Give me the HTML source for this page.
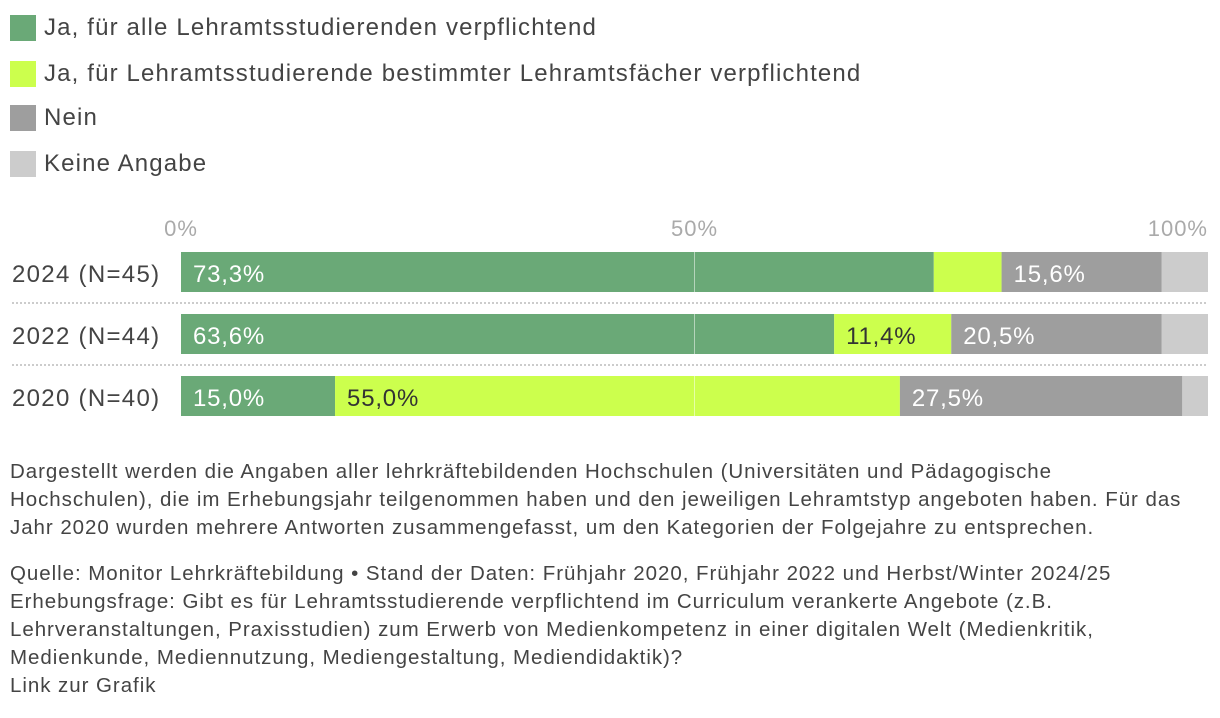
<!DOCTYPE html>
<html><head><meta charset="utf-8"><style>
body{margin:0;width:1220px;height:718px;background:#fff;font-family:"Liberation Sans",sans-serif;color:#333;overflow:hidden;position:relative}
.lg{position:absolute;left:10px;height:26px;display:flex;align-items:center;font-size:24px;color:#444;letter-spacing:1.15px;white-space:nowrap}
.sw{width:26px;height:26px;margin-right:8px}
.note{position:absolute;left:10px;font-size:20.5px;line-height:28px;color:#444;width:1210px;letter-spacing:0.95px;white-space:nowrap}
</style></head><body>
<div class="lg" style="top:15px"><div class="sw" style="background:#6aa977"></div>Ja, für alle Lehramtsstudierenden verpflichtend</div>
<div class="lg" style="top:61px"><div class="sw" style="background:#ccff4d"></div>Ja, für Lehramtsstudierende bestimmter Lehramtsfächer verpflichtend</div>
<div class="lg" style="top:105px"><div class="sw" style="background:#9e9e9e"></div>Nein</div>
<div class="lg" style="top:151px"><div class="sw" style="background:#cccccc"></div>Keine Angabe</div>
<svg id="chart" width="1220" height="450" style="position:absolute;left:0;top:0"></svg>
<div class="note" style="top:458px">Dargestellt werden die Angaben aller lehrkräftebildenden Hochschulen (Universitäten und Pädagogische<br>Hochschulen), die im Erhebungsjahr teilgenommen haben und den jeweiligen Lehramtstyp angeboten haben. Für das<br>Jahr 2020 wurden mehrere Antworten zusammengefasst, um den Kategorien der Folgejahre zu entsprechen.</div>
<div class="note" style="top:560px">Quelle: Monitor Lehrkräftebildung • Stand der Daten: Frühjahr 2020, Frühjahr 2022 und Herbst/Winter 2024/25<br>Erhebungsfrage: Gibt es für Lehramtsstudierende verpflichtend im Curriculum verankerte Angebote (z.B.<br>Lehrveranstaltungen, Praxisstudien) zum Erwerb von Medienkompetenz in einer digitalen Welt (Medienkritik,<br>Medienkunde, Mediennutzung, Mediengestaltung, Mediendidaktik)?<br><span>Link zur Grafik</span></div>
<script>
const categories=["2024 (N=45)","2022 (N=44)","2020 (N=40)"];
const allMandatory=[73.3,63.6,15.0];
const someMandatory=[6.6,11.4,55.0];
const nein=[15.6,20.5,27.5];
const keine=[4.5,4.5,2.5];
const ticks=[0,50,100];
const svg=document.getElementById('chart');const NS='http://www.w3.org/2000/svg';
const x0=181,x1=1208;const xs=v=>x0+(x1-x0)*v/100;
const rowY=i=>252+i*62;const bh=40;
function el(t,a,txt){const e=document.createElementNS(NS,t);for(const k in a)e.setAttribute(k,a[k]);if(txt!=null)e.textContent=txt;svg.appendChild(e);return e;}
ticks.forEach((t,i)=>{const e=el('text',{x:xs(t),y:236,'font-size':22,fill:'#aaa','letter-spacing':1,'text-anchor':i==ticks.length-1?'end':'middle','font-family':'Liberation Sans'},t+'%');

});
const series=[[allMandatory,'#6aa977','#fff'],[someMandatory,'#ccff4d','#333'],[nein,'#9e9e9e','#fff'],[keine,'#cccccc','#333']];
categories.forEach((c,i)=>{const y=rowY(i);
const lab=el('text',{x:12,y:y+30,'font-size':24,'letter-spacing':1.3,fill:'#444','font-family':'Liberation Sans'},c);


let acc=0;series.forEach(([arr,col,tc],s)=>{const v=arr[i];
const r=el('rect',{x:xs(acc),y:y,width:xs(acc+v)-xs(acc),height:bh,fill:col});


if(v>=10){const t=el('text',{x:xs(acc)+12,y:y+30,'font-size':24,'letter-spacing':0.8,fill:tc,'font-family':'Liberation Sans'},v.toFixed(1).replace('.',',')+'%');

}
acc+=v;});
if(i<categories.length-1){const l=el('line',{x1:12,x2:1208,y1:y+bh+11,y2:y+bh+11,stroke:'#ccc','stroke-width':2,'stroke-dasharray':'2,2'});

}});
const g=el('line',{x1:xs(50),x2:xs(50),y1:rowY(0),y2:rowY(2)+bh,stroke:'rgba(255,255,255,0.5)','stroke-width':1});


</script>
</body></html>
